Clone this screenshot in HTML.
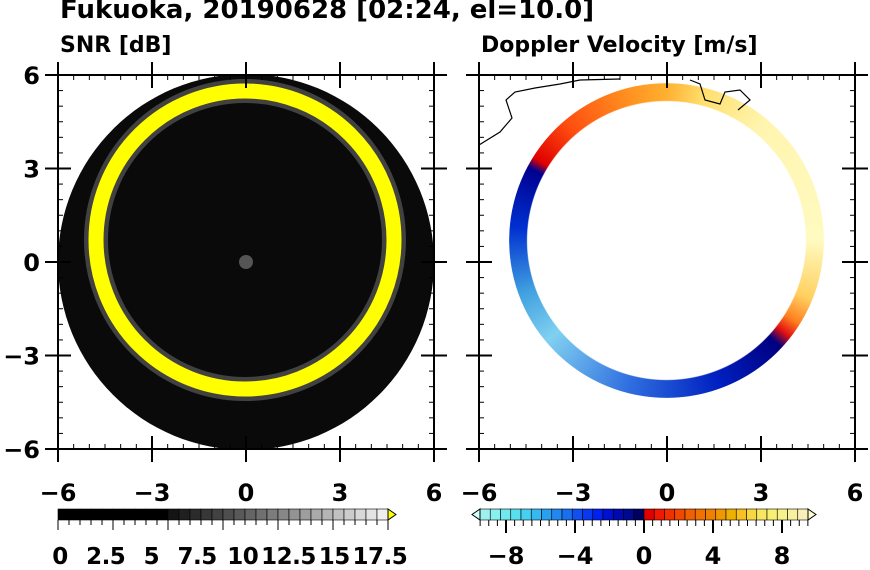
<!DOCTYPE html>
<html><head><style>
body{margin:0;background:#fff;width:870px;height:570px;overflow:hidden;font-family:"DejaVu Sans","Liberation Sans",sans-serif;font-weight:bold}
.t{position:absolute;white-space:nowrap}
.ring{position:absolute;border-radius:50%;
 -webkit-mask:radial-gradient(circle,transparent 0,transparent 139px,#000 140px,#000 157px,transparent 158px);
 mask:radial-gradient(circle,transparent 0,transparent 139px,#000 140px,#000 157px,transparent 158px)}
</style></head><body>
<div class="t" style="left:60px;top:-5px;font-size:26px">Fukuoka, 20190628 [02:24, el=10.0]</div>
<div class="t" style="left:60px;top:33px;font-size:22px">SNR [dB]</div>
<div class="t" style="left:481px;top:33px;font-size:22px">Doppler Velocity [m/s]</div>

<svg width="870" height="570" style="position:absolute;left:0;top:0">
<defs><clipPath id="c1"><rect x="58" y="75" width="376" height="374"/></clipPath></defs>
<circle cx="246" cy="262" r="188" fill="#0a0a0a" clip-path="url(#c1)"/>
<circle cx="246" cy="262" r="7" fill="#555"/>
<circle cx="245" cy="240" r="149" fill="none" stroke="#777" stroke-width="24" opacity="0.5"/>
<circle cx="245" cy="240" r="149" fill="none" stroke="#ffff00" stroke-width="15"/>
</svg>
<div class="ring" style="left:509px;top:83px;width:315px;height:315px;
background:conic-gradient(#ffb030 0deg,#ffe070 15deg,#fff5b0 40deg,#fffac0 90deg,#ffd060 112deg,#ff8020 122deg,#e01010 128deg,#000080 133deg,#0020c0 160deg,#3070e0 195deg,#80d0f0 230deg,#40a0e0 250deg,#0030d0 275deg,#000090 298deg,#e00000 302deg,#ff5010 320deg,#ff9020 345deg,#ffb030 360deg)"></div>
<svg width="870" height="570" style="position:absolute;left:0;top:0;font-family:'DejaVu Sans',sans-serif;font-weight:bold" id="ax"></svg>
<script>
const s=document.getElementById('ax');let h='';
h+=`<polyline points="479,145 500,132 512,118 506,100 515,92 535,88 560,84 580,80 620,79" fill="none" stroke="#000" stroke-width="1.2"/>`;
h+=`<polyline points="690,80 700,84 705,100 720,104 725,92 740,90 750,100 738,110" fill="none" stroke="#000" stroke-width="1.2"/>`;
function panel(x0){const x1=x0+376,y0=75,y1=449;
h+=`<rect x="${x0}" y="${y0}" width="376" height="374" fill="none" stroke="#000" stroke-width="2"/>`;
for(let i=0;i<=24;i++){const v=-6+i*0.5,major=(i%6==0);const x=x0+i*376/24,y=y1-i*374/24;
 const L=major?8:5;
 h+=`<line x1="${x}" y1="${y1+(major?13:0)}" x2="${x}" y2="${y1-(major?13:L)}" stroke="#000" stroke-width="${major?2:1}"/>`;
 h+=`<line x1="${x}" y1="${y0-(major?13:0)}" x2="${x}" y2="${y0+(major?13:L)}" stroke="#000" stroke-width="${major?2:1}"/>`;
 h+=`<line x1="${x0-(major?13:0)}" y1="${y}" x2="${x0+(major?13:L)}" y2="${y}" stroke="#000" stroke-width="${major?2:1}"/>`;
 h+=`<line x1="${x1+(major?13:0)}" y1="${y}" x2="${x1-(major?13:L)}" y2="${y}" stroke="#000" stroke-width="${major?2:1}"/>`;
 if(major){const t=(v<0?'\u2212':'')+Math.abs(v);
  h+=`<text x="${x}" y="501" font-size="24" text-anchor="middle">${t}</text>`;
 }}}
panel(58);panel(479);
[['6',75],['3',168.5],['0',262],['\u22123',355.5],['\u22126',449]].forEach(([t,y])=>h+=`<text x="40" y="${y+9}" font-size="24" text-anchor="end">${t}</text>`);
let bx=58,bw=330/30;
for(let i=0;i<30;i++){const c=i<10?0:Math.round(20+(i-10)*11.5);h+=`<rect x="${bx+i*bw}" y="509" width="${bw}" height="11" fill="rgb(${c},${c},${c})" stroke="#000" stroke-width="0.6"/>`;
 h+=`<line x1="${bx+i*bw}" y1="520" x2="${bx+i*bw}" y2="${i%5==0?530:525}" stroke="#000"/>`;}
h+=`<polygon points="388,509 396,514.5 388,520" fill="#ff0" stroke="#000"/>`;
h+=`<line x1="388" y1="520" x2="388" y2="530" stroke="#000"/>`;
['0','2.5','5','7.5','10','12.5','15','17.5'].forEach((t,i)=>h+=`<text x="${60+i*45.7}" y="564" font-size="23" text-anchor="middle" letter-spacing="-0.5">${t}</text>`);
const cols=['#a0f0f0','#88f0f0','#70e8f0','#58e0f0','#48d0f0','#38b8f0','#28a0f0','#2088f0','#1870f0','#1050f0','#0838f0','#0020f0','#0010d0','#0008b0','#000890','#000060','#e00000','#f01800','#f03000','#f04800','#f06000','#f07000','#f08000','#f09800','#f0b000','#f8c020','#f8d840','#f8e860','#f8f070','#f8f088','#f8f0a0','#f8f0b8'];
const rx=480,rw=328/32;
for(let i=0;i<32;i++){h+=`<rect x="${rx+i*rw}" y="509" width="${rw}" height="11" fill="${cols[i]}" stroke="#000" stroke-width="0.6"/>`;}
for(let v=-9.5;v<=9.6;v+=0.5){const x=644+v*17.25;const m=Math.abs(v%4)<0.01;h+=`<line x1="${x}" y1="520" x2="${x}" y2="${m?533:526}" stroke="#000" stroke-width="${m?2:1}"/>`;}
h+=`<polygon points="480,509 472,514.5 480,520" fill="#d0ffff" stroke="#000"/>`;
h+=`<polygon points="808,509 816,514.5 808,520" fill="#ffffd0" stroke="#000"/>`;
[['\u22128',-8],['\u22124',-4],['0',0],['4',4],['8',8]].forEach(([t,v])=>h+=`<text x="${644+v*17.25}" y="564" font-size="24" text-anchor="middle">${t}</text>`);
s.innerHTML=h;
</script>
</body></html>
